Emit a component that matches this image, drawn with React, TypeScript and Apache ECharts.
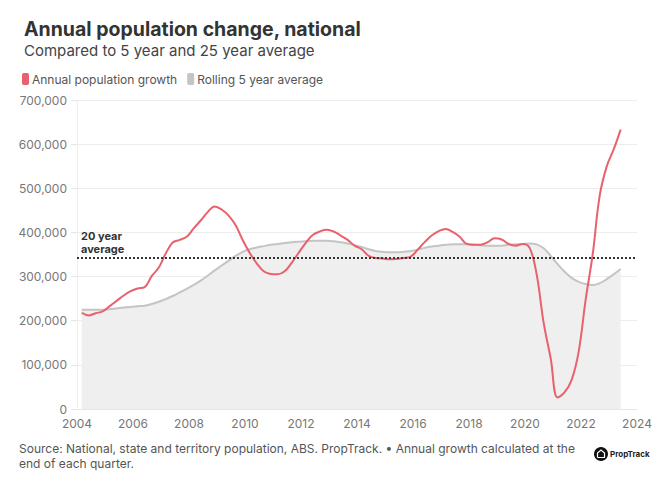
import React, { useEffect, useRef } from "react";
import * as echarts from "echarts";

const quarters = [
  "2004-03", "2004-06", "2004-09", "2004-12",
  "2005-03", "2005-06", "2005-09", "2005-12",
  "2006-03", "2006-06", "2006-09", "2006-12",
  "2007-03", "2007-06", "2007-09", "2007-12",
  "2008-03", "2008-06", "2008-09", "2008-12",
  "2009-03", "2009-06", "2009-09", "2009-12",
  "2010-03", "2010-06", "2010-09", "2010-12",
  "2011-03", "2011-06", "2011-09", "2011-12",
  "2012-03", "2012-06", "2012-09", "2012-12",
  "2013-03", "2013-06", "2013-09", "2013-12",
  "2014-03", "2014-06", "2014-09", "2014-12",
  "2015-03", "2015-06", "2015-09", "2015-12",
  "2016-03", "2016-06", "2016-09", "2016-12",
  "2017-03", "2017-06", "2017-09", "2017-12",
  "2018-03", "2018-06", "2018-09", "2018-12",
  "2019-03", "2019-06", "2019-09", "2019-12",
  "2020-03", "2020-06", "2020-09", "2020-12",
  "2021-03", "2021-06", "2021-09", "2021-12",
  "2022-03", "2022-06", "2022-09", "2022-12",
  "2023-03", "2023-06",
];

const annualGrowth = [
  218000, 212000, 217000, 221000,
  233000, 245000, 257000, 267000,
  273000, 276000, 301000, 320000,
  352000, 377000, 383000, 390000,
  409000, 427000, 446000, 459000,
  452000, 438000, 416000, 383000,
  354000, 330000, 312000, 306000,
  305000, 312000, 331000, 354000,
  376000, 394000, 402000, 406000,
  402000, 393000, 383000, 370000,
  362000, 347000, 342000, 341000,
  339000, 340000, 342000, 345000,
  361000, 378000, 393000, 403000,
  408000, 401000, 390000, 374000,
  372000, 372000, 378000, 387000,
  384000, 374000, 370000, 374000,
  365000, 305000, 195000, 115000,
  26000, 38000, 66000, 130000,
  248000, 350000, 483000, 549000,
  588000, 633000,
];

const rolling5yr = [
  225000, 225000, 225000, 225000,
  226000, 228000, 230000, 231000,
  233000, 234000, 238000, 243000,
  249000, 256000, 264000, 272000,
  281000, 291000, 302000, 314000,
  325000, 336000, 347000, 356000,
  362000, 366000, 369000, 372000,
  374000, 376000, 378000, 379000,
  380000, 381000, 381000, 381000,
  380000, 378000, 375000, 371000,
  367000, 362000, 358000, 356000,
  355000, 355000, 356000, 358000,
  361000, 365000, 368000, 370000,
  372000, 373000, 373000, 373000,
  372000, 371000, 370000, 370000,
  370000, 372000, 373000, 374000,
  375000, 373000, 364000, 347000,
  328000, 311000, 297000, 288000,
  283000, 281000, 285000, 294000,
  305000, 317000,
];

const twentyYearAverage = 341600;

const FONT = "Inter, 'Open Sans', sans-serif";

function toYear(q: string): number {
  const [y, m] = q.split("-").map(Number);
  return y + (m - 1) / 12;
}

export default function App() {
  const ref = useRef<HTMLDivElement>(null);

  useEffect(() => {
    if (!ref.current) return;
    const chart = echarts.init(ref.current, undefined, { renderer: "svg" });
    const xs = quarters.map(toYear);
    const growthData = xs.map((x, i) => [x, annualGrowth[i]]);
    const rollingData = xs.map((x, i) => [x, rolling5yr[i]]);

    chart.setOption({
      animation: false,
      backgroundColor: "#ffffff",
      textStyle: { fontFamily: FONT },
      title: [
        {
          text: "Annual population change, national",
          left: 19,
          top: 14,
          textStyle: { fontFamily: FONT, fontSize: 19.5, fontWeight: "bold", color: "#333333" },
        },
        {
          text: "Compared to 5 year and 25 year average",
          left: 19,
          top: 38,
          textStyle: { fontFamily: FONT, fontSize: 15, fontWeight: "normal", color: "#444444" },
        },
      ],
      legend: {
        left: 17,
        top: 68,
        icon: "roundRect",
        itemWidth: 7,
        itemHeight: 12,
        itemGap: 10,
        textStyle: { fontFamily: FONT, fontSize: 12, color: "#555555", padding: [0, 0, 0, -2] },
        data: [
          { name: "Annual population growth", itemStyle: { color: "#e8616d" } },
          { name: "Rolling 5 year average", itemStyle: { color: "#c4c4c4" } },
        ],
      },
      grid: { left: 77, right: 32, top: 100, bottom: 81, containLabel: false },
      xAxis: {
        type: "value",
        min: 2004,
        max: 2024,
        interval: 2,
        axisLine: { show: true, lineStyle: { color: "#e6e6e6" } },
        axisTick: { show: false },
        splitLine: { show: false },
        axisLabel: {
          color: "#777777",
          fontSize: 12,
          fontFamily: FONT,
          margin: 8,
          formatter: (v: number) => String(v),
        },
      },
      yAxis: {
        type: "value",
        min: 0,
        max: 700000,
        interval: 100000,
        axisLine: { show: true, lineStyle: { color: "#efefef" } },
        axisTick: { show: true, length: 6, lineStyle: { color: "#e6e6e6" } },
        splitLine: { show: true, lineStyle: { color: "#ececec", width: 1 } },
        axisLabel: {
          color: "#777777",
          fontSize: 12,
          fontFamily: FONT,
          margin: 10,
          verticalAlign: "bottom",
          lineHeight: 12,
          padding: [0, 0, -6, 0],
          formatter: (v: number) => v.toLocaleString("en-US"),
        },
      },
      series: [
        {
          name: "Rolling 5 year average",
          type: "line",
          data: rollingData,
          smooth: 0.4,
          symbol: "none",
          lineStyle: { color: "#c4c4c4", width: 2 },
          itemStyle: { color: "#c4c4c4" },
          areaStyle: { color: "#efefef", opacity: 1 },
          z: 2,
          markLine: {
            silent: true,
            symbol: "none",
            lineStyle: { color: "#333333", type: [2, 2], width: 2 },
            label: {
              show: true,
              position: "insideStartTop",
              formatter: "20 year\naverage",
              color: "#333333",
              fontFamily: FONT,
              fontSize: 11,
              fontWeight: "bold",
              lineHeight: 13,
              align: "left",
              distance: [4, 3],
            },
            data: [{ yAxis: twentyYearAverage }],
          },
        },
        {
          name: "Annual population growth",
          type: "line",
          data: growthData,
          smooth: 0.4,
          symbol: "none",
          lineStyle: { color: "#e8616d", width: 2 },
          itemStyle: { color: "#e8616d" },
          z: 3,
        },
      ],
      graphic: [
        {
          type: "text",
          left: 19,
          top: 441,
          style: {
            text:
              "Source: National, state and territory population, ABS. PropTrack. • Annual growth calculated at the\nend of each quarter.",
            fontFamily: FONT,
            fontSize: 12,
            lineHeight: 15,
            fill: "#555555",
          },
        },
        {
          type: "circle",
          shape: { cx: 601, cy: 454, r: 7 },
          style: { fill: "#111111" },
        },
        {
          type: "polyline",
          shape: {
            points: [
              [597.5, 457.5],
              [597.5, 453],
              [601, 450],
              [604.5, 453],
              [604.5, 457.5],
              [597.5, 457.5],
            ],
          },
          style: { stroke: "#ffffff", fill: "none", lineWidth: 1.2 },
        },
        {
          type: "text",
          left: 610,
          top: 450,
          style: {
            text: "PropTrack",
            fontFamily: FONT,
            fontSize: 8,
            fontWeight: "bold",
            fill: "#222222",
          },
        },
      ],
    });

    return () => chart.dispose();
  }, []);

  return (
    <div
      ref={ref}
      style={{ position: "fixed", left: 0, top: 0, width: 669, height: 490 }}
    />
  );
}
